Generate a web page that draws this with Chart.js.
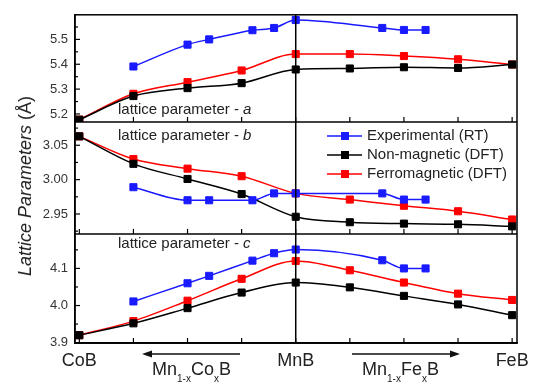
<!DOCTYPE html>
<html><head><meta charset="utf-8">
<script src="https://cdn.jsdelivr.net/npm/chart.js@4"></script>
<style>
html,body{margin:0;padding:0;background:#fff;}
#wrap{position:relative;width:537px;height:385px;font-family:"Liberation Sans",Arial,sans-serif;color:#222;overflow:hidden;}
canvas{position:absolute;left:0;top:0;}
.t{position:absolute;white-space:nowrap;line-height:1;}
.pl{font-size:15px;left:118px;}
.leg{position:absolute;left:327px;font-size:15px;line-height:1;white-space:nowrap;}
.leg svg{position:absolute;left:0;}
.leg span{position:absolute;left:40px;top:0;}
.mx{font-size:18px;}
.mx sub{font-size:10px;vertical-align:-7px;line-height:0;}
#ytitle{position:absolute;left:25px;top:186px;font-size:18px;line-height:1;white-space:nowrap;transform:translate(-50%,-50%) rotate(-90deg);}
</style></head>
<body><div id="wrap">
<canvas id="c" width="537" height="385"></canvas>
<div id="ytitle"><i>Lattice Parameters</i> (Å)</div>
<div class="t pl" style="top:101px">lattice parameter - <i>a</i></div>
<div class="t pl" style="top:127px">lattice parameter - <i>b</i></div>
<div class="t pl" style="top:235px">lattice parameter - <i>c</i></div>
<div id="legend"></div>
<svg style="position:absolute;left:0;top:0" width="537" height="385">
  <line x1="240" y1="354" x2="150" y2="354" stroke="#111" stroke-width="1.4"/>
  <polygon points="142,354 152,350.5 152,357.5" fill="#111"/>
  <line x1="352" y1="354" x2="450" y2="354" stroke="#111" stroke-width="1.4"/>
  <polygon points="460,354 450,350.5 450,357.5" fill="#111"/>
</svg>
<div class="t mx" style="left:152px;top:360px">Mn<sub>1-x</sub>Co<sub>x</sub>B</div>
<div class="t mx" style="left:362px;top:360px">Mn<sub>1-x</sub>Fe<sub>x</sub>B</div>
</div>
<script>
const family = '"Liberation Sans", Arial, sans-serif';
// categories / x positions
const xTickVals = [0,1,2,3,4,5,6,7,8];
const xTickNames = ['CoB','','','','MnB','','','','FeB'];
const dftX = [0,1,2,3,4,5,6,7,8];
const expX = [1,2,2.4,3.2,3.6,4,5.6,6,6.4];
// series values
const expA = [5.391,5.479,5.500,5.537,5.546,5.578,5.546,5.538,5.538];
const nmA  = [5.177,5.272,5.304,5.324,5.379,5.383,5.388,5.385,5.399];
const fmA  = [5.177,5.281,5.328,5.375,5.441,5.441,5.433,5.420,5.399];
const expB = [2.989,2.970,2.970,2.970,2.980,2.980,2.980,2.971,2.971];
const nmB  = [3.063,3.023,3.001,2.979,2.946,2.938,2.936,2.935,2.932];
const fmB  = [3.063,3.030,3.016,3.005,2.980,2.971,2.962,2.954,2.942];
const expC = [4.011,4.060,4.080,4.121,4.141,4.151,4.122,4.100,4.100];
const nmC  = [3.920,3.952,3.993,4.035,4.062,4.049,4.026,4.003,3.974];
const fmC  = [3.920,3.958,4.013,4.072,4.120,4.095,4.062,4.032,4.015];
// tick labels
const ticksA = [5.2,5.3,5.4,5.5];
const ticksB = [2.95,3.00,3.05];
const ticksC = [3.9,4.0,4.1];
const seriesNames = ['Experimental (RT)','Non-magnetic (DFT)','Ferromagnetic (DFT)'];
const seriesColors = ['#1a1aff','#000000','#ff0000'];

function pts(xs, ys){ return xs.map((x,i)=>({x:x,y:ys[i]})); }
function ds(name, ci, xs, ys, axis){
  return {label:name, data:pts(xs,ys), yAxisID:axis, borderColor:seriesColors[ci], backgroundColor:seriesColors[ci],
    pointBorderColor:seriesColors[ci], pointBackgroundColor:seriesColors[ci], borderWidth:1.5, pointStyle:'rect',
    pointRadius:5, pointBorderWidth:1, cubicInterpolationMode:'monotone', showLine:true};
}
const datasets = [
  ds(seriesNames[0],0,expX,expA,'ya'), ds(seriesNames[1],1,dftX,nmA,'ya'), ds(seriesNames[2],2,dftX,fmA,'ya'),
  ds(seriesNames[0],0,expX,expB,'yb'), ds(seriesNames[1],1,dftX,nmB,'yb'), ds(seriesNames[2],2,dftX,fmB,'yb'),
  ds(seriesNames[0],0,expX,expC,'yc'), ds(seriesNames[1],1,dftX,nmC,'yc'), ds(seriesNames[2],2,dftX,fmC,'yc')
];

// legend (HTML)
const legTops = [126.5,145.5,164.5];
const legHtml = seriesNames.map((n,i)=>{
  const c = seriesColors[i];
  return '<div class="leg" style="top:'+legTops[i]+'px"><svg width="38" height="16" style="top:1px">'+
    '<line x1="0" y1="8" x2="35" y2="8" stroke="'+c+'" stroke-width="1.5"/>'+
    '<rect x="14" y="4" width="8" height="8" fill="'+c+'"/></svg><span>'+n+'</span></div>';
}).join('');
document.getElementById('legend').innerHTML = legHtml;

function yAxis(ticks, min, max, weight, dec){
  return {type:'linear', position:'left', stack:'panels', stackWeight:weight, min:min, max:max,
    afterBuildTicks: s=>{ s.ticks = ticks.map(v=>({value:v})); },
    afterFit: s=>{ s.width = 75; },
    ticks:{callback:v=>Number(v).toFixed(dec), font:{family:family,size:13}, color:'#333', padding:7},
    grid:{display:false, drawTicks:false}, border:{display:true,color:'#000',width:1.5}};
}

const framePlugin = {
  id:'frame',
  afterDraw(chart){
    const {ctx, chartArea:a, scales} = chart;
    const X = scales.x;
    ctx.save();
    ctx.strokeStyle = '#000';
    ctx.lineWidth = 1.5;
    const line=(x1,y1,x2,y2)=>{ctx.beginPath();ctx.moveTo(x1,y1);ctx.lineTo(x2,y2);ctx.stroke();};
    ctx.strokeRect(a.left, a.top, a.right-a.left, a.bottom-a.top);
    const xm = X.getPixelForValue(4);
    line(xm, a.top, xm, a.bottom);
    [['ya',ticksA,0.1],['yb',ticksB,0.05],['yc',ticksC,0.1]].forEach(([id,tk,step])=>{
      const s = scales[id];
      ctx.lineWidth = 1.5;
      line(a.left, s.bottom, a.right, s.bottom);
      ctx.lineWidth = 1.2;
      xTickVals.forEach(v=>{ const px = X.getPixelForValue(v); line(px, s.bottom, px, s.bottom-5); });
      tk.forEach(v=>{ const py = s.getPixelForValue(v); line(a.left, py, a.left+5, py); });
      for (let v = tk[0]-step/2; v < s.max; v += step){
        if (v > s.min){ const py = s.getPixelForValue(v); line(a.left, py, a.left+3, py); }
      }
    });
    ctx.restore();
  }
};

new Chart(document.getElementById('c'), {
  type:'scatter',
  data:{datasets:datasets},
  options:{
    responsive:false, animation:false,
    layout:{padding:{left:0,right:20,top:9,bottom:0}},
    plugins:{legend:{display:false}, tooltip:{enabled:false}},
    scales:{
      x:{type:'linear', position:'bottom', min:-0.08, max:8.09,
        afterBuildTicks: s=>{ s.ticks = xTickVals.map(v=>({value:v})); },
        afterFit: s=>{ s.height = 42; },
        ticks:{callback:(v)=>xTickNames[xTickVals.indexOf(v)]||'', font:{family:family,size:18}, color:'#222', padding:7, maxRotation:0, autoSkip:false},
        grid:{display:false, drawTicks:false}, border:{display:true,color:'#000',width:1.5}},
      yc: yAxis(ticksC, 3.899, 4.193, 111, 1),
      yb: yAxis(ticksB, 2.921, 3.084, 114, 2),
      ya: yAxis(ticksA, 5.168, 5.599, 109, 1)
    }
  },
  plugins:[framePlugin]
});
</script>
</body></html>
